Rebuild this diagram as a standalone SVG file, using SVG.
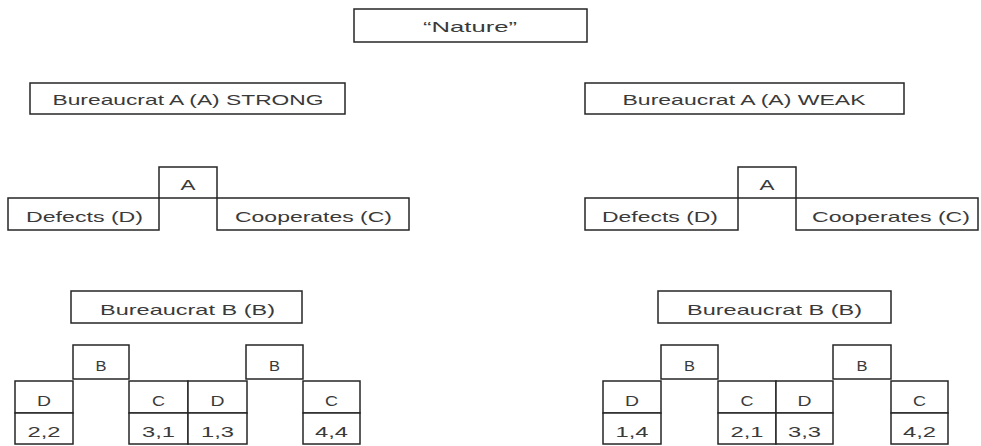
<svg xmlns="http://www.w3.org/2000/svg" width="981" height="446" viewBox="0 0 981 446">
<style>
rect{fill:#fff;stroke:#262626;stroke-width:1.5}
line{stroke:#262626;stroke-width:1.5}
text{font-family:"Liberation Sans",Arial,sans-serif;font-size:15px;fill:#3a3a3a;text-anchor:middle}
</style>
<rect x="0" y="0" width="981" height="446" style="stroke:none"/>
<g id="nature"><rect x="354" y="9" width="233" height="33"/><text x="470" y="32" textLength="94" lengthAdjust="spacingAndGlyphs">“Nature”</text></g>
<g id="strong"><rect x="30" y="83" width="315" height="31"/><text x="188" y="105" textLength="271" lengthAdjust="spacingAndGlyphs">Bureaucrat A (A) STRONG</text></g>
<g id="weak"><rect x="585" y="83" width="319" height="31"/><text x="744" y="105" textLength="243" lengthAdjust="spacingAndGlyphs">Bureaucrat A (A) WEAK</text></g>
<g id="L-A"><rect x="159" y="167" width="58" height="31"/><text x="188" y="190" textLength="15" lengthAdjust="spacingAndGlyphs">A</text></g>
<g id="L-D"><rect x="8" y="198" width="151" height="32"/><text x="84.5" y="222" textLength="117" lengthAdjust="spacingAndGlyphs">Defects (D)</text></g>
<g id="L-C"><rect x="217" y="198" width="192" height="32"/><text x="313.5" y="222" textLength="157" lengthAdjust="spacingAndGlyphs">Cooperates (C)</text></g>
<g id="R-A"><rect x="738" y="167" width="58" height="31"/><text x="767" y="190" textLength="15" lengthAdjust="spacingAndGlyphs">A</text></g>
<g id="R-D"><rect x="585" y="198" width="153" height="32"/><text x="660" y="222" textLength="116" lengthAdjust="spacingAndGlyphs">Defects (D)</text></g>
<g id="R-C"><rect x="796" y="198" width="182" height="32"/><text x="891" y="222" textLength="158" lengthAdjust="spacingAndGlyphs">Cooperates (C)</text></g>
<g id="L-BB"><rect x="71" y="291" width="231" height="32"/><text x="187.5" y="315" textLength="175" lengthAdjust="spacingAndGlyphs">Bureaucrat B (B)</text></g>
<g id="R-BB"><rect x="658" y="291" width="233" height="32"/><text x="774.5" y="315" textLength="175" lengthAdjust="spacingAndGlyphs">Bureaucrat B (B)</text></g>
<g id="L-B1"><rect x="73" y="345" width="56" height="34"/><text x="101" y="371" textLength="11" lengthAdjust="spacingAndGlyphs">B</text></g>
<g id="L-B2"><rect x="246" y="345" width="57" height="34"/><text x="274.5" y="371" textLength="11" lengthAdjust="spacingAndGlyphs">B</text></g>
<g id="R-B1"><rect x="661" y="345" width="57" height="34"/><text x="689.5" y="371" textLength="11" lengthAdjust="spacingAndGlyphs">B</text></g>
<g id="R-B2"><rect x="833" y="345" width="58" height="34"/><text x="862" y="371" textLength="11" lengthAdjust="spacingAndGlyphs">B</text></g>
<g id="L-DD"><rect x="15" y="381" width="58" height="32"/><rect x="15" y="413" width="58" height="31"/><text x="44" y="406" textLength="14" lengthAdjust="spacingAndGlyphs">D</text><text x="44" y="437" textLength="33" lengthAdjust="spacingAndGlyphs">2,2</text></g>
<g id="L-DC"><rect x="129" y="381" width="59" height="32"/><rect x="129" y="413" width="59" height="31"/><text x="158.5" y="406" textLength="13" lengthAdjust="spacingAndGlyphs">C</text><text x="158.5" y="437" textLength="33" lengthAdjust="spacingAndGlyphs">3,1</text></g>
<g id="L-CD"><rect x="188" y="381" width="59" height="32"/><rect x="188" y="413" width="59" height="31"/><text x="217.5" y="406" textLength="14" lengthAdjust="spacingAndGlyphs">D</text><text x="217.5" y="437" textLength="33" lengthAdjust="spacingAndGlyphs">1,3</text></g>
<g id="L-CC"><rect x="303" y="381" width="57" height="32"/><rect x="303" y="413" width="57" height="31"/><text x="331.5" y="406" textLength="13" lengthAdjust="spacingAndGlyphs">C</text><text x="331.5" y="437" textLength="33" lengthAdjust="spacingAndGlyphs">4,4</text></g>
<g id="R-DD"><rect x="603" y="381" width="58" height="32"/><rect x="603" y="413" width="58" height="31"/><text x="632" y="406" textLength="14" lengthAdjust="spacingAndGlyphs">D</text><text x="632" y="437" textLength="33" lengthAdjust="spacingAndGlyphs">1,4</text></g>
<g id="R-DC"><rect x="718" y="381" width="58" height="32"/><rect x="718" y="413" width="58" height="31"/><text x="747" y="406" textLength="13" lengthAdjust="spacingAndGlyphs">C</text><text x="747" y="437" textLength="33" lengthAdjust="spacingAndGlyphs">2,1</text></g>
<g id="R-CD"><rect x="776" y="381" width="57" height="32"/><rect x="776" y="413" width="57" height="31"/><text x="804.5" y="406" textLength="14" lengthAdjust="spacingAndGlyphs">D</text><text x="804.5" y="437" textLength="33" lengthAdjust="spacingAndGlyphs">3,3</text></g>
<g id="R-CC"><rect x="891" y="381" width="57" height="32"/><rect x="891" y="413" width="57" height="31"/><text x="919.5" y="406" textLength="13" lengthAdjust="spacingAndGlyphs">C</text><text x="919.5" y="437" textLength="33" lengthAdjust="spacingAndGlyphs">4,2</text></g>
<g id="connectors"></g>
</svg>
